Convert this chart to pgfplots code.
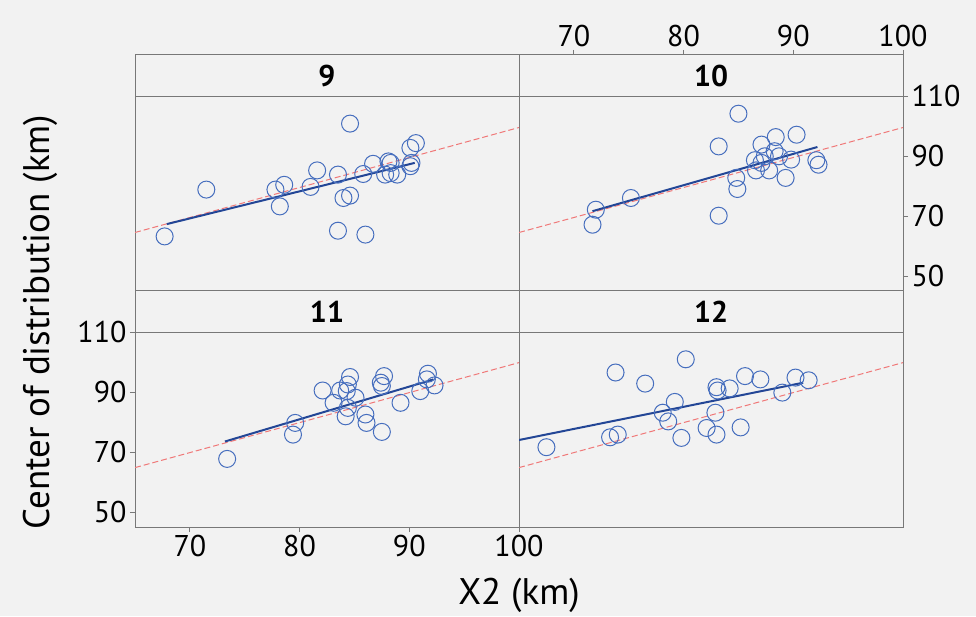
\documentclass[border=0pt]{standalone}
\usepackage{fontspec}
\setmainfont{PT Sans}
\usepackage{pgfplots}
\pgfplotsset{compat=1.18}

\definecolor{ptblue}{RGB}{70,110,190}
\definecolor{fitblue}{RGB}{35,70,150}
\definecolor{refred}{RGB}{240,120,120}
\definecolor{frame}{RGB}{120,120,120}

\pgfplotsset{
  panel/.style={
    scale only axis, width=384pt, height=236pt,
    xmin=65, xmax=100, ymin=45, ymax=123.67,
    anchor=south west,
    axis line style={draw=frame, line width=1pt},
    xtick=\empty, ytick=\empty,
    tick style={draw=frame, line width=0.8pt},
    tick align=outside, major tick length=5pt,
    every tick label/.append style={font=\fontsize{30}{32}\selectfont},
    /pgf/number format/assume math mode=true,
  },
  pts/.style={only marks, mark=o, mark size=8.5pt,
    mark options={draw=ptblue, line width=1pt}},
  fitline/.style={no markers, draw=fitblue, line width=2pt},
  refline/.style={no markers, draw=refred, line width=1pt,
    dash pattern=on 6pt off 3pt},
}

% strip line and panel title
\newcommand{\strip}[1]{%
  \draw[frame, line width=1pt] (axis cs:65,110) -- (axis cs:100,110);
  \node[font=\fontsize{30}{32}\selectfont\bfseries] at (axis cs:82.5,116.8) {#1};
}

\begin{document}
\begin{tikzpicture}
\fill[black!5] (0pt,0pt) rectangle (976pt,616pt);
\useasboundingbox (0pt,0pt) rectangle (976pt,616pt);

% ---- panel 9 (top left)
\begin{axis}[panel, at={(135pt,325pt)}]
  \addplot[refline] coordinates {(65,64.5) (100,99.5)};
  \addplot[pts] coordinates {
    (67.7,63.2) (71.5,78.8) (84.6,100.8) (77.8,78.8) (78.6,80.4)
    (78.2,73.2) (81.0,79.7) (81.6,85.2) (83.5,83.8) (84.0,76.0)
    (84.6,76.8) (83.5,65.1) (86.0,63.8) (85.8,84.0) (86.7,87.4)
    (88.1,88.2) (88.3,84.3) (88.9,83.8) (87.8,83.8) (90.1,92.7)
    (90.6,94.3) (90.1,86.6) (90.2,87.7) (88.3,87.7)
  };
  \addplot[fitline] coordinates {(67.9,67.3) (90.5,87.7)};
  \strip{9}
\end{axis}

% ---- panel 10 (top right)
\begin{axis}[panel, at={(519pt,325pt)},
    xtick={70,80,90,100}, xtick pos=upper, xticklabel pos=upper,
    ytick={50,70,90,110}, ytick pos=right, yticklabel pos=right]
  \addplot[refline] coordinates {(65,64.5) (100,99.5)};
  \addplot[pts] coordinates {
    (85.0,104.1) (83.2,93.2) (75.2,76.0) (72.0,72.1) (71.7,67.1)
    (83.2,70.1) (84.8,82.7) (84.9,79.0) (87.1,93.8) (88.4,96.3)
    (90.3,97.1) (88.3,91.6) (86.5,88.6) (86.6,85.2) (87.8,85.2)
    (88.7,89.9) (89.8,88.8) (89.3,82.7) (92.1,88.6) (92.3,87.1)
    (87.4,89.9) (87.1,87.7)
  };
  \addplot[fitline] coordinates {(71.7,71.6) (92.2,93.0)};
  \strip{10}
\end{axis}

% ---- panel 11 (bottom left)
\begin{axis}[panel, at={(135pt,89pt)},
    xtick={70,80,90,100}, xtick pos=lower, xticklabel pos=lower,
    ytick={50,70,90,110}, ytick pos=left, yticklabel pos=left]
  \addplot[refline] coordinates {(65,64.8) (100,99.8)};
  \addplot[pts] coordinates {
    (73.4,67.7) (79.6,79.7) (79.4,75.8) (82.1,90.5) (83.1,86.4)
    (83.7,90.5) (84.6,95.0) (84.4,92.5) (84.3,90.3) (84.2,81.9)
    (84.4,84.7) (85.1,88.1) (86.0,82.5) (86.1,79.7) (87.5,76.7)
    (87.7,95.3) (87.5,92.0) (87.4,93.1) (89.2,86.4) (91.7,96.1)
    (91.6,94.2) (92.3,92.2) (91.0,90.3)
  };
  \addplot[fitline] coordinates {(73.2,73.5) (92.2,94.2)};
  \strip{11}
\end{axis}

% ---- panel 12 (bottom right)
\begin{axis}[panel, at={(519pt,89pt)}]
  \addplot[refline] coordinates {(65,64.8) (100,99.8)};
  \addplot[pts] coordinates {
    (67.5,71.6) (73.3,74.9) (74.0,75.8) (73.8,96.5) (76.5,92.8)
    (80.2,100.9) (79.2,86.7) (78.1,83.1) (78.6,80.2) (79.8,74.7)
    (83.0,91.6) (83.1,90.5) (84.2,91.2) (82.9,83.1) (82.1,78.0)
    (83.0,75.8) (85.2,78.2) (85.6,95.3) (87.0,94.2) (89.0,89.8)
    (90.2,94.8) (91.4,93.9)
  };
  \addplot[fitline] coordinates {(65,74.0) (90.9,93.1)};
  \strip{12}
\end{axis}

\node[rotate=90, font=\fontsize{37}{40}\selectfont] at (40pt,294pt) {Center of distribution (km)};
\node[font=\fontsize{37}{40}\selectfont] at (519pt,21pt) {X2 (km)};
\end{tikzpicture}
\end{document}
